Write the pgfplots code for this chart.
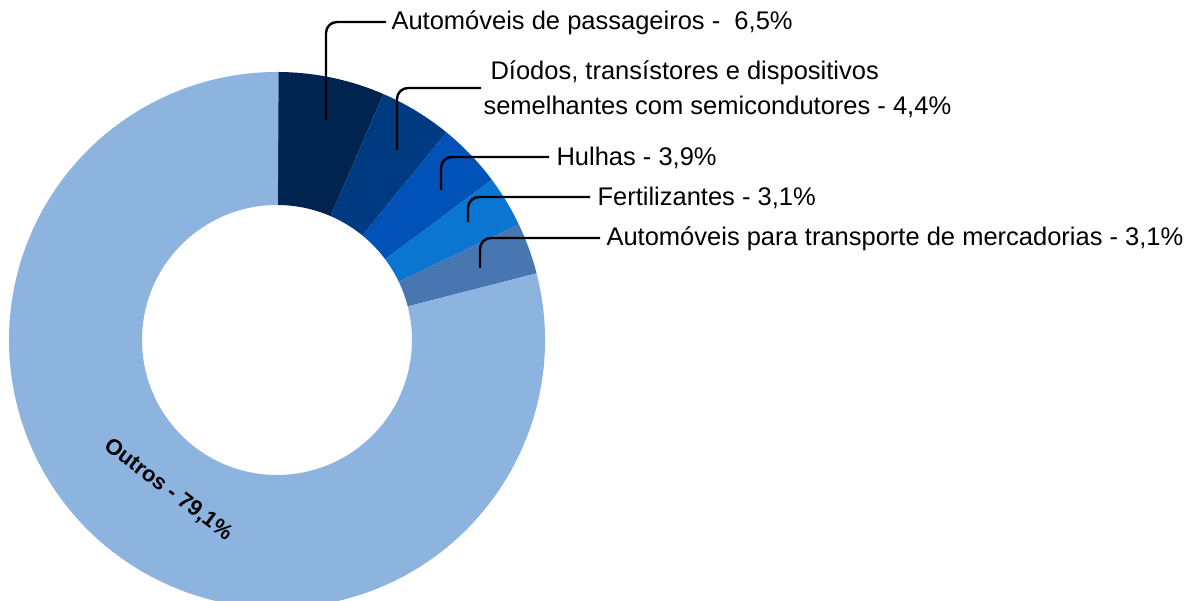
\documentclass[border=0pt]{standalone}
\usepackage{fontspec}
\setmainfont{Liberation Sans}
\newfontfamily\boldlab{Liberation Sans}
\usepackage{pgfplots}
\usepackage{pgfplotstable}
\pgfplotsset{compat=1.18}

\definecolor{c1}{HTML}{002350}
\definecolor{c2}{HTML}{003A80}
\definecolor{c3}{HTML}{0052B8}
\definecolor{c4}{HTML}{0A76D2}
\definecolor{c5}{HTML}{4876B0}
\definecolor{c6}{HTML}{8DB3DF}

% shares in %, clockwise from 12 o'clock
\pgfplotstableread{
share col
6.5  c1
4.4  c2
3.9  c3
3.1  c4
3.1  c5
79.1 c6
}\shares

\begin{document}
\begin{tikzpicture}
\begin{axis}[
  x=1pt, y=1pt,
  xmin=0, xmax=1186, ymin=0, ymax=601,
  hide axis, clip=true,
  every node/.style={inner sep=0pt}]

\path (axis cs:0,0) rectangle (axis cs:1186,601);

\def\startang{90}
\pgfplotsforeachungrouped \i in {0,...,5}{%
  \pgfplotstablegetelem{\i}{share}\of\shares \let\v\pgfplotsretval
  \pgfplotstablegetelem{\i}{col}\of\shares \let\c\pgfplotsretval
  \pgfmathsetmacro\endang{\startang-3.6*\v}%
  \edef\temp{\noexpand\fill[\c]
    ([shift={(\startang:268pt)}]axis cs:277,261)
    arc[start angle=\startang, end angle=\endang, radius=268pt]
    -- ([shift={(\endang:135pt)}]axis cs:277,261)
    arc[start angle=\endang, end angle=\startang, radius=135pt] -- cycle;}%
  \temp
  \global\let\startang\endang
}

% callouts
\begin{scope}[line width=2.4pt, rounded corners=11pt]
\draw (axis cs:326,481) |- (axis cs:386,579);
\draw (axis cs:397,451) |- (axis cs:481,513);
\draw (axis cs:441,411) |- (axis cs:549,444);
\draw (axis cs:468,379) |- (axis cs:590,404);
\draw (axis cs:480,333) |- (axis cs:600,363);
\end{scope}

\begin{scope}[every node/.append style={anchor=west, font=\fontsize{25.5}{30}\selectfont}]
\node at (axis cs:388,578) {Automóveis de passageiros -\ \ 6,5\%};
\node at (axis cs:487,528) {Díodos, transístores e dispositivos};
\node at (axis cs:480,494) {semelhantes com semicondutores - 4,4\%};
\node at (axis cs:553,443) {Hulhas - 3,9\%};
\node at (axis cs:594,403) {Fertilizantes - 3,1\%};
\node at (axis cs:603,362) {Automóveis para transporte de mercadorias - 3,1\%};
\end{scope}

\node[rotate=-37, font=\boldlab\bfseries\fontsize{22}{26}\selectfont]
  at (axis cs:168,111) {Outros - 79,1\%};
\end{axis}
\end{tikzpicture}
\end{document}
